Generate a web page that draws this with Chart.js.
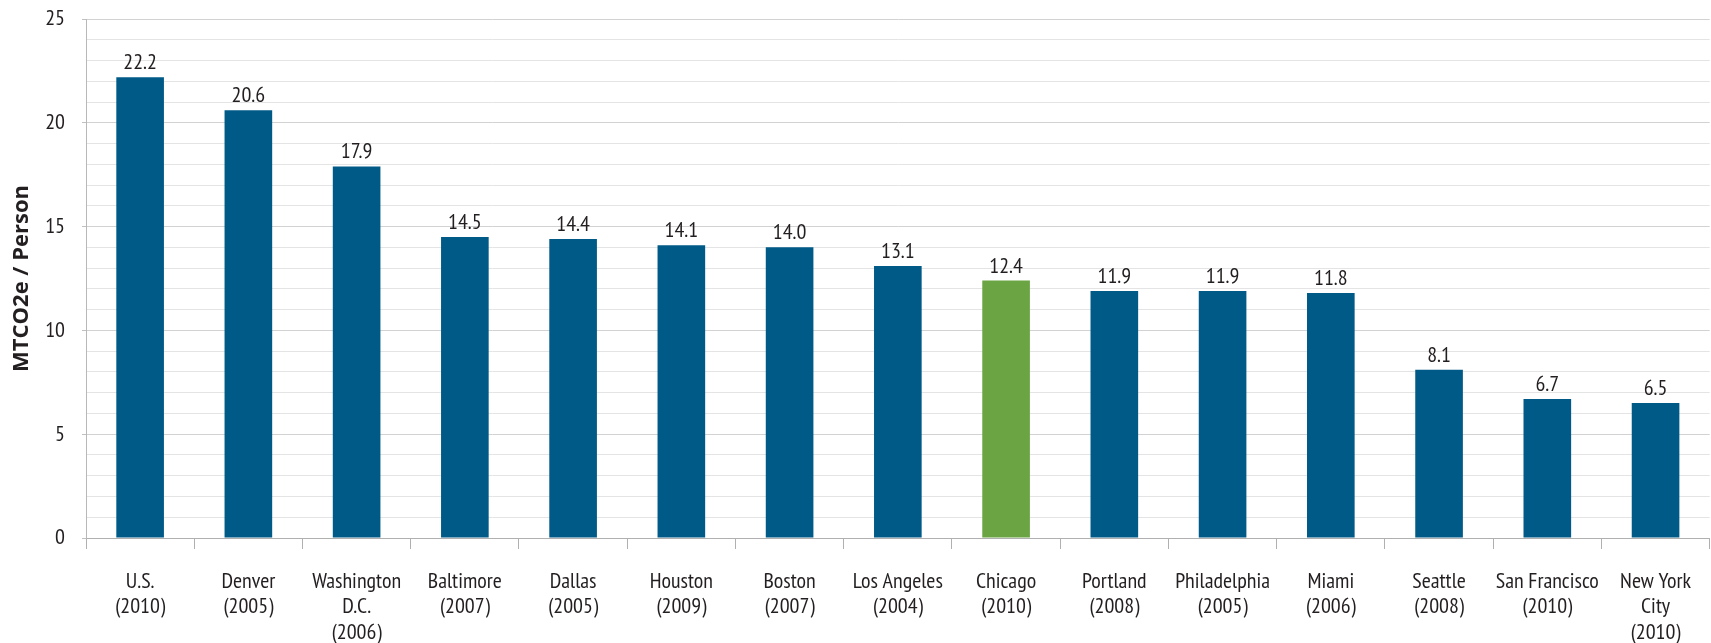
<!DOCTYPE html>
<html>
<head>
<meta charset="utf-8">
<script src="https://cdn.jsdelivr.net/npm/chart.js@4"></script>
<style>
    html, body { margin: 0; padding: 0; background: #fff; }
    #wrap { width: 1711px; height: 643px; }
</style>
</head>
<body>
<div id="wrap"><canvas id="chart-emissions"></canvas></div>
<script>
var cities = [
    ['U.S.', '(2010)'], ['Denver', '(2005)'], ['Washington', 'D.C.', '(2006)'],
    ['Baltimore', '(2007)'], ['Dallas', '(2005)'], ['Houston', '(2009)'],
    ['Boston', '(2007)'], ['Los Angeles', '(2004)'], ['Chicago', '(2010)'],
    ['Portland', '(2008)'], ['Philadelphia', '(2005)'], ['Miami', '(2006)'],
    ['Seattle', '(2008)'], ['San Francisco', '(2010)'], ['New York', 'City', '(2010)']
];
var perPerson = [22.2, 20.6, 17.9, 14.5, 14.4, 14.1, 14.0, 13.1, 12.4, 11.9, 11.9, 11.8, 8.1, 6.7, 6.5];
var highlight = 'Chicago';

var narrow = '"PT Sans Narrow", "Roboto Condensed", "DejaVu Sans Condensed", sans-serif';

// value above each bar
var valueLabels = {
    id: 'valueLabels',
    afterDatasetsDraw: function(chart) {
        var ctx = chart.ctx;
        var meta = chart.getDatasetMeta(0);
        ctx.save();
        ctx.font = '22px ' + narrow;
        ctx.fillStyle = '#231f20';
        ctx.textAlign = 'center';
        ctx.textBaseline = 'alphabetic';
        meta.data.forEach(function(bar, i) {
            ctx.fillText(perPerson[i].toFixed(1), bar.x, bar.y - 8);
        });
        ctx.restore();
    }
};

function chart() {
    var ctx = document.getElementById('chart-emissions');
    var colors = cities.map(function(c) {
        return c[0] === highlight ? '#6ba443' : '#005a87';
    });
    new Chart(ctx, {
        type: 'bar',
        data: {
            labels: cities,
            datasets: [{
                label: 'MTCO2e / Person',
                data: perPerson,
                backgroundColor: colors,
                borderWidth: 0,
                barPercentage: 0.44,
                categoryPercentage: 1
            }]
        },
        options: {
            responsive: true,
            maintainAspectRatio: false,
            animation: false,
            layout: { padding: { top: 19, right: 0, left: 0, bottom: 0 } },
            plugins: {
                legend: { display: false },
                tooltip: { enabled: false }
            },
            scales: {
                x: {
                    offset: true,
                    border: { color: '#b0b0b0', width: 1 },
                    grid: {
                        offset: true,
                        drawOnChartArea: false,
                        drawTicks: true,
                        tickLength: 11,
                        color: '#b0b0b0'
                    },
                    ticks: {
                        autoSkip: false,
                        maxRotation: 0,
                        padding: 20,
                        color: '#231f20',
                        font: { family: narrow, size: 22, lineHeight: 1.15 }
                    },
                    afterFit: function(scale) { scale.height = 105; }
                },
                y: {
                    min: 0,
                    max: 25,
                    border: { color: '#b8b8b8', width: 1 },
                    grid: {
                        color: function(c) {
                            return c.tick && c.tick.value % 5 === 0 ? '#d2d2d2' : '#e4e4e4';
                        },
                        tickColor: function(c) {
                            return c.tick && c.tick.value % 5 === 0 ? '#c0c0c0' : 'rgba(0,0,0,0)';
                        },
                        tickLength: 4
                    },
                    ticks: {
                        stepSize: 1,
                        autoSkip: false,
                        padding: 17,
                        color: '#231f20',
                        font: { family: narrow, size: 22 },
                        callback: function(v) { return v % 5 === 0 ? v : ''; }
                    },
                    title: {
                        display: true,
                        text: 'MTCO2e / Person',
                        color: '#231f20',
                        padding: { top: 9, bottom: 0 },
                        font: { family: '"Open Sans", "DejaVu Sans", sans-serif', size: 22, weight: 'bold' }
                    },
                    afterFit: function(scale) {
                        scale.width = 86;
                        scale.paddingTop = 0;
                        scale.paddingBottom = 0;
                    }
                }
            }
        },
        plugins: [valueLabels]
    });
}

chart();
</script>
</body>
</html>
